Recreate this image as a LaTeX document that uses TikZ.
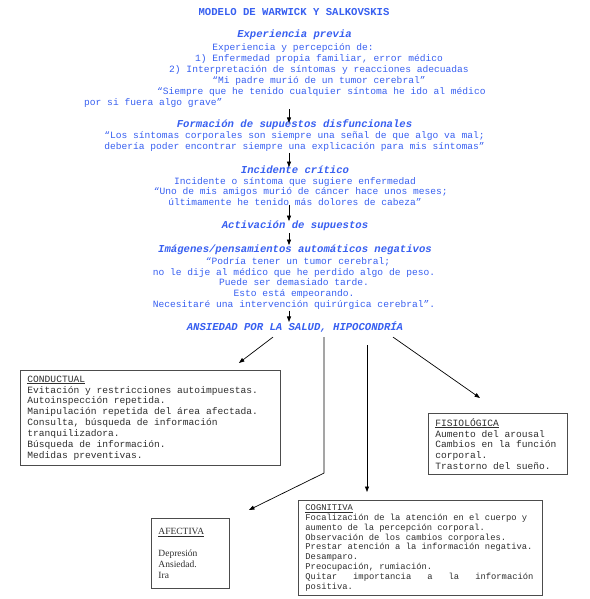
\documentclass[tikz,border=0pt]{standalone}
\usepackage{fontspec}
\setmainfont{Liberation Serif}
\setmonofont{Liberation Mono}
\usetikzlibrary{arrows.meta,calc}
\definecolor{modelblue}{RGB}{55,95,240}
\definecolor{boxtext}{RGB}{45,45,45}

\begin{document}
\begin{tikzpicture}[x=1pt,y=-1pt,
    >={Triangle[length=5.5pt,width=4pt]},
    maintitle/.style={font=\ttfamily\bfseries\fontsize{10.6}{12}\selectfont, text=modelblue, inner sep=0pt, anchor=base},
    heading/.style={font=\ttfamily\bfseries\itshape\fontsize{10.6}{12}\selectfont, text=modelblue, inner sep=0pt, anchor=base},
    quote/.style={font=\ttfamily\fontsize{9.6}{10.8}\selectfont, text=modelblue, inner sep=0pt, anchor=base, align=center},
    catbox/.style={draw=black!70, line width=0.9pt, anchor=north west, align=flush left, inner xsep=7pt, inner ysep=0pt, text=boxtext, font=\ttfamily\fontsize{9.6}{10.85}\selectfont},
    link/.style={->, line width=0.7pt}
]
\useasboundingbox (0,0) rectangle (589,599);

\node[maintitle] (titulo) at (294,16) {MODELO DE WARWICK Y SALKOVSKIS};

% bloques de texto: el punto base es la linea base de la ultima linea
\node[heading] (prevhead) at (294.5,38) {Experiencia previa};
\node[quote] (preva) at (293,51) {Experiencia y percepción de:};
\node[quote] (prevb) at (319,83.4) {1) Enfermedad propia familiar, error médico\\2) Interpretación de síntomas y reacciones adecuadas\\“Mi padre murió de un tumor cerebral”};
\node[quote, anchor=base west] (prevc) at (157,94.4) {“Siempre que he tenido cualquier síntoma he ido al médico};
\node[quote, anchor=base west] (prevd) at (84,105.2) {por si fuera algo grave”};

\node[heading] (formhead) at (294.5,128) {Formación de supuestos disfuncionales};
\node[quote] (formtext) at (294.5,149.8) {“Los síntomas corporales son siempre una señal de que algo va mal;\\debería poder encontrar siempre una explicación para mis síntomas”};

\node[heading] (inchead) at (295,173) {Incidente crítico};
\node[quote] (inctext) at (295,205.6) {Incidente o síntoma que sugiere enfermedad\\\hspace*{11.5pt}“Uno de mis amigos murió de cáncer hace unos meses;\\últimamente he tenido más dolores de cabeza”};

\node[heading] (acthead) at (295,228) {Activación de supuestos};

\node[heading] (imghead) at (295,252) {Imágenes/pensamientos automáticos negativos};
\node[quote] (imgtext) at (294,307.5) {\hspace*{8pt}“Podría tener un tumor cerebral;\\no le dije al médico que he perdido algo de peso.\\Puede ser demasiado tarde.\\Esto está empeorando.\\Necesitaré una intervención quirúrgica cerebral”.};

\node[heading] (ansiedad) at (295,330) {ANSIEDAD POR LA SALUD, HIPOCONDRÍA};

% cuadros de respuesta
\node[catbox, text width=246pt, minimum height=95pt] (conductual) at (20,370) {\underline{CONDUCTUAL}\\Evitación y restricciones autoimpuestas.\\Autoinspección repetida.\\Manipulación repetida del área afectada.\\Consulta, búsqueda de información\\tranquilizadora.\\Búsqueda de información.\\Medidas preventivas.};
\node[catbox, text width=125pt, minimum height=61pt] (fisiologica) at (428,413) {\underline{FISIOLÓGICA}\\Aumento del arousal\\Cambios en la función\\corporal.\\Trastorno del sueño.};
\node[catbox, text width=230pt, minimum height=95pt, font=\ttfamily\fontsize{8.8}{9.9}\selectfont] (cognitiva) at (298,500) {\underline{COGNITIVA}\\Focalización de la atención en el cuerpo y\\aumento de la percepción corporal.\\Observación de los cambios corporales.\\Prestar atención a la información negativa.\\Desamparo.\\Preocupación, rumiación.\\\leavevmode\hbox to 228pt{Quitar\hfill importancia\hfill a\hfill la\hfill información}\\positiva.};
\node[catbox, text width=64pt, minimum height=70pt, font=\rmfamily\fontsize{9.5}{11}\selectfont] (afectiva) at (151,518) {\underline{AFECTIVA}\\[11pt]Depresión\\Ansiedad.\\Ira};

% flechas
\coordinate (axis) at (289,0);
\draw[link, shorten <=2pt, shorten >=-3pt] (axis |- prevd.south) -- (axis |- formhead.north);
\draw[link, shorten <=1pt, shorten >=-2pt] (axis |- formtext.south) -- (axis |- inchead.north);
\draw[link, shorten <=-1pt, shorten >=-1pt] (axis |- inctext.south) -- (axis |- acthead.north);
\draw[link, shorten <=3pt, shorten >=-1pt] (axis |- acthead.south) -- (axis |- imghead.north);
\draw[link, shorten <=1pt, shorten >=-1pt] (axis |- imgtext.south) -- (axis |- ansiedad.north);

\draw[link] ([xshift=-22pt,yshift=-5pt]ansiedad.south) -- ([xshift=-42pt,yshift=7pt]conductual.north east);
\draw[link] ([xshift=29pt,yshift=-5pt]ansiedad.south) -- ++(0,136) -- ([xshift=19pt,yshift=8pt]afectiva.north east);
\draw[link] ([xshift=72pt,yshift=-13pt]ansiedad.south) -- ([xshift=69pt,yshift=8pt]cognitiva.north west);
\draw[link] ([xshift=98pt,yshift=-5pt]ansiedad.south) -- ([xshift=52pt,yshift=15pt]fisiologica.north west);
\end{tikzpicture}
\end{document}
